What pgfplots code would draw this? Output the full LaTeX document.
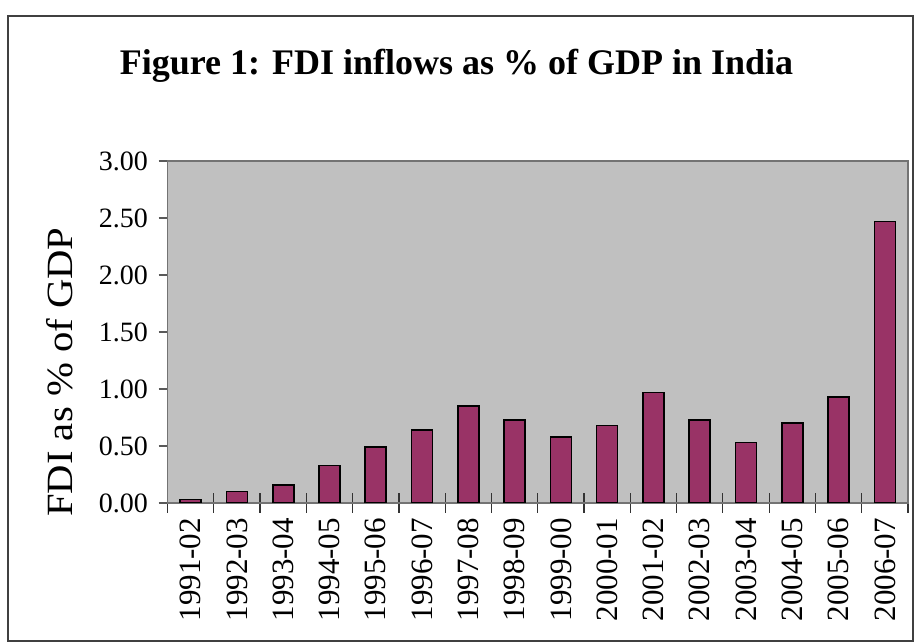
\documentclass[border=0pt]{standalone}
\usepackage{fontspec}
\setmainfont{Liberation Serif}
\usepackage{graphicx}
\usepackage{pgfplots}
\pgfplotsset{compat=1.18}
\definecolor{barfill}{HTML}{993366}
\definecolor{plotbg}{HTML}{C0C0C0}
\begin{document}
\begin{tikzpicture}[x=1pt,y=1pt]
\useasboundingbox (0,0) rectangle (915,642);
\draw[line width=1.5pt, black!75] (8,0.75) rectangle (913,626);
\node[font=\fontsize{36}{40}\selectfont\bfseries, anchor=base] at (456.5,567) {Figure 1: FDI inflows as \% of GDP in India};
\begin{axis}[at={(167.5pt,139pt)}, anchor=south west, scale only axis,
  width=740.5pt, height=342pt,
  ymin=0, ymax=3, xmin=-0.5, xmax=15.5,
  axis background/.style={fill=plotbg},
  axis line style={draw=black!55, line width=1.2pt},
  tick pos=left,
  ytick={0,0.5,1,1.5,2,2.5,3},
  /pgf/number format/.cd, fixed, fixed zerofill, precision=2, assume math mode=true, /pgfplots/.cd,
  yticklabel style={font=\fontsize{28}{30}\selectfont, xshift=-7pt},
  ytick align=outside, major tick length=9pt,
  ytick style={draw=black!65, line width=1.2pt},
  xtick={0,...,15},
  xticklabels={1991-02,1992-03,1993-04,1994-05,1995-06,1996-07,1997-08,1998-09,1999-00,2000-01,2001-02,2002-03,2003-04,2004-05,2005-06,2006-07},
  every major x tick/.append style={draw=none},
  minor xtick={-0.5,0.5,...,15.5},
  minor tick length=19pt, xtick align=center,
  every minor x tick/.append style={draw=black!80, line width=1.2pt},
  xticklabel style={font=\fontsize{31}{33}\selectfont, rotate=90, anchor=east, xshift=-7pt},
  ylabel={\scalebox{1.1}[1]{FDI as \% of GDP}},
  ylabel style={font=\fontsize{37}{39}\selectfont, at={(axis description cs:-0.145,0.383)}, anchor=center},
]
\addplot[ybar, bar width=21pt, fill=barfill, draw=black, line width=1.6pt] coordinates {
(0,0.03) (1,0.10) (2,0.16) (3,0.33) (4,0.49) (5,0.64) (6,0.85) (7,0.73)
(8,0.58) (9,0.68) (10,0.97) (11,0.73) (12,0.53) (13,0.70) (14,0.93) (15,2.47)};
\end{axis}
\end{tikzpicture}
\end{document}
